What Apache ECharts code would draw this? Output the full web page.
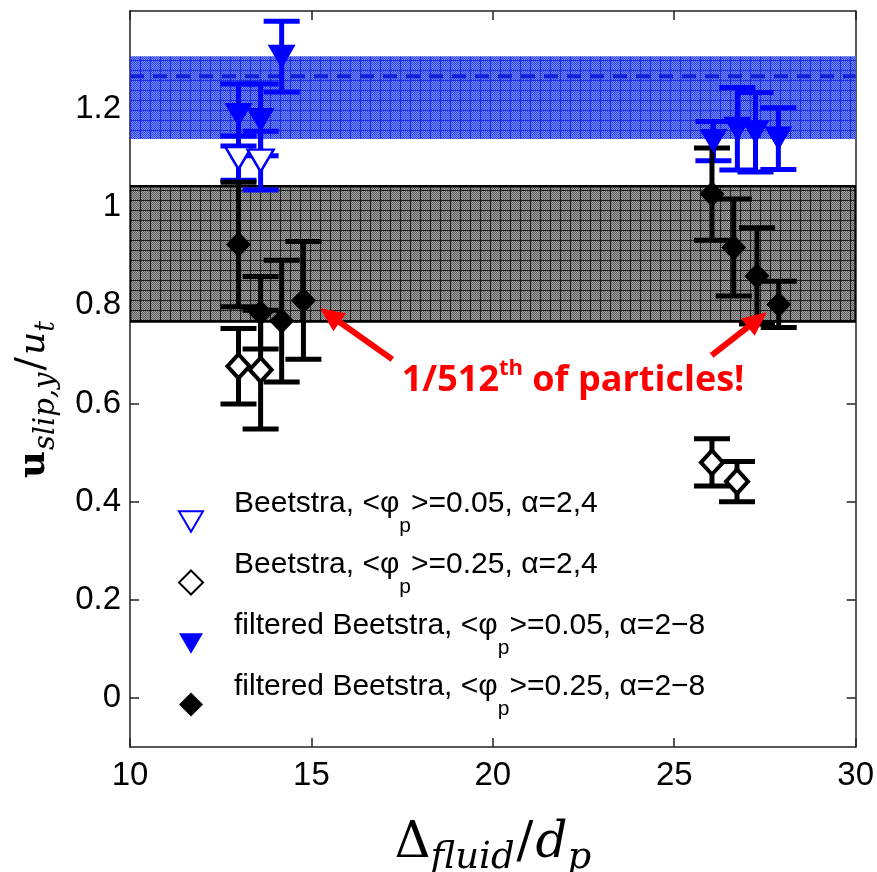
<!DOCTYPE html>
<html><head><meta charset="utf-8">
<script src="https://cdn.jsdelivr.net/npm/echarts@6/dist/echarts.min.js"></script>
<style>html,body{margin:0;padding:0;background:#fff}#c{width:877px;height:872px}</style>
</head><body><div id="c"></div>
<script>
// ---- data ----
const xOpenTri = [12.99, 13.60];
const yOpenTri = [1.100, 1.095];
const eOpenTri = [0.045, 0.060];

const xOpenDia = [12.99, 13.60, 26.04, 26.73];
const yOpenDia = [0.676, 0.669, 0.480, 0.441];
const eOpenDia = [0.077, 0.121, 0.048, 0.041];

const xFillTri = [12.99, 13.60, 14.18, 26.08, 26.74, 27.24, 27.87];
const yFillTri = [1.188, 1.178, 1.307, 1.135, 1.160, 1.153, 1.140];
const eFillTri = [0.063, 0.073, 0.072, 0.040, 0.084, 0.081, 0.063];

const xFillDia = [12.99, 13.60, 14.18, 14.78, 26.04, 26.64, 27.28, 27.88];
const yFillDia = [0.924, 0.785, 0.768, 0.810, 1.027, 0.918, 0.860, 0.802];
const eFillDia = [0.127, 0.074, 0.124, 0.120, 0.094, 0.099, 0.098, 0.047];

const blueBand = [1.139, 1.308];
const blueMean = [1.267];
const grayBand = [0.767, 1.043];

const xRange = [10, 30];
const yRange = [-0.1, 1.4];
const xTicks = [10, 15, 20, 25, 30];
const yTicks = [0, 0.2, 0.4, 0.6, 0.8, 1, 1.2];

const seriesNames = [
  'Beetstra, <φ_p>=0.05, α=2,4',
  'Beetstra, <φ_p>=0.25, α=2,4',
  'filtered Beetstra, <φ_p>=0.05, α=2−8',
  'filtered Beetstra, <φ_p>=0.25, α=2−8'
];

// annotation (data coordinates)
const noteAnchor = [17.49, 0.624];
const arrowLeft = [[17.23, 0.690], [15.24, 0.794]];
const arrowRight = [[26.03, 0.698], [27.55, 0.786]];

// ---- helpers ----
function zip3(a, b, c) { return a.map((v, i) => [v, b[i], c[i]]); }
function makePattern(base, dot, line, cell) {
  const c = document.createElement('canvas'); c.width = cell; c.height = cell;
  const g = c.getContext('2d');
  g.fillStyle = base; g.fillRect(0, 0, cell, cell);
  g.fillStyle = dot;
  for (let i = 0; i < cell; i++) for (let j = 0; j < cell; j++) if ((i + j) % 2 === 0) g.fillRect(i, j, 1, 1);
  g.fillStyle = line; g.fillRect(0, 0, cell, 1); g.fillRect(0, 0, 1, cell);
  return c;
}
const grayPat = makePattern('#a4a4a4', '#5c5c5c', '#1e1e1e', 10);
const bluePat = makePattern('#7890ff', '#2a3ef2', '#1f2ee6', 10);

function errRender(color) {
  return function (params, api) {
    const x = api.value(0), y = api.value(1), e = api.value(2);
    const t = api.coord([x, y + e]), b = api.coord([x, y - e]);
    const hw = 18, st = { stroke: color, lineWidth: 5 };
    return { type: 'group', children: [
      { type: 'line', shape: { x1: t[0], y1: t[1], x2: b[0], y2: b[1] }, style: st },
      { type: 'line', shape: { x1: t[0] - hw, y1: t[1], x2: t[0] + hw, y2: t[1] }, style: st },
      { type: 'line', shape: { x1: b[0] - hw, y1: b[1], x2: b[0] + hw, y2: b[1] }, style: st }
    ]};
  };
}
function bandRender(pat, border) {
  return function (params, api) {
    const cs = params.coordSys;
    const y0 = api.coord([api.value(0), api.value(1)])[1];
    const y1 = api.coord([api.value(0), api.value(2)])[1];
    const style = { fill: { image: pat, repeat: 'repeat' } };
    if (border) { style.stroke = '#000'; style.lineWidth = 2.5; }
    return { type: 'rect', shape: { x: cs.x, y: Math.min(y0, y1), width: cs.width, height: Math.abs(y1 - y0) }, style };
  };
}
function meanRender(params, api) {
  const cs = params.coordSys;
  const y = api.coord([api.value(0), api.value(1)])[1];
  return { type: 'line', shape: { x1: cs.x, y1: y, x2: cs.x + cs.width, y2: y },
    style: { stroke: '#1420d8', lineWidth: 4, lineDash: [14, 9] } };
}

const triPath = 'path://M0,0L20,0L10,17Z';
const axisLine = { show: true, onZero: false, lineStyle: { color: '#222', width: 1.5 } };
const axisTickX = { show: true, inside: true, length: 9, lineStyle: { color: '#222', width: 1.5 } };
const axisTickY = { show: true, inside: true, length: 9, customValues: yTicks, lineStyle: { color: '#222', width: 1.5 } };
const labelFont = { fontSize: 33, fontFamily: 'Liberation Sans', color: '#000' };

const chart = echarts.init(document.getElementById('c'), null, { renderer: 'canvas' });
chart.setOption({
  animation: false,
  backgroundColor: '#fff',
  grid: { left: 130, right: 20, top: 11, bottom: 125, containLabel: false },
  xAxis: [
    { type: 'value', min: xRange[0], max: xRange[1], interval: 5, position: 'bottom', axisLine, axisTick: axisTickX,
      axisLabel: Object.assign({ margin: 12 }, labelFont), splitLine: { show: false } },
    { type: 'value', min: xRange[0], max: xRange[1], interval: 5, position: 'top', axisLine, axisTick: axisTickX,
      axisLabel: { show: false }, splitLine: { show: false } }
  ],
  yAxis: [
    { type: 'value', min: yRange[0], max: yRange[1], position: 'left', axisLine, axisTick: axisTickY,
      axisLabel: Object.assign({ margin: 9, customValues: yTicks }, labelFont), splitLine: { show: false } },
    { type: 'value', min: yRange[0], max: yRange[1], position: 'right', axisLine, axisTick: axisTickY,
      axisLabel: { show: false, customValues: yTicks }, splitLine: { show: false } }
  ],
  legend: {
    orient: 'vertical', left: 173, top: 484, itemWidth: 24, itemHeight: 24, itemGap: 13,
    data: seriesNames,
    formatter: n => '{g| }{a|' + n.replace('φ_p', 'φ}{s|p}{a|') + '}',
    textStyle: {
      color: '#000', fontFamily: 'Liberation Sans', fontSize: 30,
      rich: {
        g: { width: 26, fontSize: 30 },
        a: { fontSize: 30, fontFamily: 'Liberation Sans', color: '#000', padding: [0, 0, 35, 0] },
        s: { fontSize: 21, fontFamily: 'Liberation Sans', color: '#000', padding: [10, 0, 0, 0] }
      }
    }
  },
  series: [
    { type: 'custom', silent: true, clip: true, renderItem: bandRender(bluePat, false), encode: { x: 0, y: [1, 2] },
      data: [[xRange[0], blueBand[0], blueBand[1]]] },
    { type: 'custom', silent: true, clip: true, renderItem: meanRender, encode: { x: 0, y: 1 },
      data: [[xRange[0], blueMean[0]]] },
    { type: 'custom', silent: true, clip: true, renderItem: bandRender(grayPat, true), encode: { x: 0, y: [1, 2] },
      data: [[xRange[0], grayBand[0], grayBand[1]]] },

    { type: 'custom', silent: true, renderItem: errRender('#0000ff'), encode: { x: 0, y: 1 }, data: zip3(xOpenTri, yOpenTri, eOpenTri) },
    { type: 'scatter', name: seriesNames[0], symbol: triPath, symbolSize: [26, 22],
      itemStyle: { color: '#ffffff', borderColor: '#0000ff', borderWidth: 2.5, opacity: 1 },
      data: xOpenTri.map((x, i) => [x, yOpenTri[i]]) },

    { type: 'custom', silent: true, renderItem: errRender('#000000'), encode: { x: 0, y: 1 }, data: zip3(xOpenDia, yOpenDia, eOpenDia) },
    { type: 'scatter', name: seriesNames[1], symbol: 'diamond', symbolSize: [22, 24],
      itemStyle: { color: '#ffffff', borderColor: '#000000', borderWidth: 4, opacity: 1 },
      data: xOpenDia.map((x, i) => [x, yOpenDia[i]]) },

    { type: 'custom', silent: true, renderItem: errRender('#0000ff'), encode: { x: 0, y: 1 }, data: zip3(xFillTri, yFillTri, eFillTri) },
    { type: 'scatter', name: seriesNames[2], symbol: triPath, symbolSize: [28, 24],
      itemStyle: { color: '#0000ff', opacity: 1 },
      data: xFillTri.map((x, i) => [x, yFillTri[i]]) },

    { type: 'custom', silent: true, renderItem: errRender('#000000'), encode: { x: 0, y: 1 }, data: zip3(xFillDia, yFillDia, eFillDia) },
    { type: 'scatter', name: seriesNames[3], symbol: 'diamond', symbolSize: [25, 26],
      itemStyle: { color: '#000000', opacity: 1 },
      data: xFillDia.map((x, i) => [x, yFillDia[i]]) }
  ]
});

// ---- text compositions & annotation ----
const mctx = document.createElement('canvas').getContext('2d');
function measure(t, font) { mctx.font = font; return mctx.measureText(t).width; }
function compose(pieces, color) {
  let x = 0; const out = [];
  pieces.forEach(p => {
    out.push({ type: 'text', x: x, y: p.dy - 0.3 * p.size,
      style: { text: p.t, font: p.font, fill: color, textAlign: 'left', textVerticalAlign: 'middle', align: 'left', verticalAlign: 'middle' } });
    x += measure(p.t, p.font) + (p.gap || 0);
  });
  return { children: out, width: x };
}
const serif = '"DejaVu Serif"';
const yName = compose([
  { t: 'u', font: 'bold 37px ' + serif, size: 37, dy: 0, gap: 1 },
  { t: 'slip,y', font: 'italic 29px ' + serif, size: 29, dy: 10, gap: 2 },
  { t: '/', font: '40px ' + serif, size: 40, dy: 0, gap: 2 },
  { t: 'u', font: 'italic 36px ' + serif, size: 36, dy: 0 },
  { t: 't', font: 'italic 27px ' + serif, size: 27, dy: 10 }
], '#000');
const xName = compose([
  { t: 'Δ', font: '50px ' + serif, size: 50, dy: 0 },
  { t: 'fluid', font: 'italic 37px ' + serif, size: 37, dy: 10, gap: 2 },
  { t: '/', font: '50px ' + serif, size: 50, dy: 0, gap: 2 },
  { t: 'd', font: 'italic 50px ' + serif, size: 50, dy: 0 },
  { t: 'p', font: 'italic 37px ' + serif, size: 37, dy: 10 }
], '#000');
const noteFont = '"Open Sans"';
const note = compose([
  { t: '1/512', font: 'bold 36px ' + noteFont, size: 36, dy: 0 },
  { t: 'th', font: 'bold 22px ' + noteFont, size: 22, dy: -16 },
  { t: ' of particles!', font: 'bold 36px ' + noteFont, size: 36, dy: 0 }
], '#ff0000');

function toPx(p) { return chart.convertToPixel({ gridIndex: 0 }, p); }
function arrowEls(seg) {
  const a = toPx(seg[0]), b = toPx(seg[1]);
  const dx = b[0] - a[0], dy = b[1] - a[1], L = Math.hypot(dx, dy);
  const ux = dx / L, uy = dy / L, nx = -uy, ny = ux;
  const hl = 24, hw = 11;
  const bx = b[0] - ux * hl, by = b[1] - uy * hl;
  return [
    { type: 'line', shape: { x1: a[0], y1: a[1], x2: bx + ux * 2, y2: by + uy * 2 }, style: { stroke: '#ff0000', lineWidth: 6 }, z: 50 },
    { type: 'polygon', shape: { points: [[b[0], b[1]], [bx + nx * hw, by + ny * hw], [bx - nx * hw, by - ny * hw]] }, style: { fill: '#ff0000' }, z: 50 }
  ];
}
const grid = chart.getModel().getComponent('grid', 0).coordinateSystem.getRect();
const na = toPx(noteAnchor);
const xCenter = grid.x + grid.width / 2;
chart.setOption({
  graphic: [
    { type: 'group', x: xCenter - xName.width / 2, y: 859, children: xName.children },
    { type: 'group', x: 45, y: 478, rotation: Math.PI / 2, children: yName.children },
    { type: 'group', x: na[0], y: na[1], children: note.children, z: 50 }
  ].concat(arrowEls(arrowLeft), arrowEls(arrowRight))
});
</script>
</body></html>
